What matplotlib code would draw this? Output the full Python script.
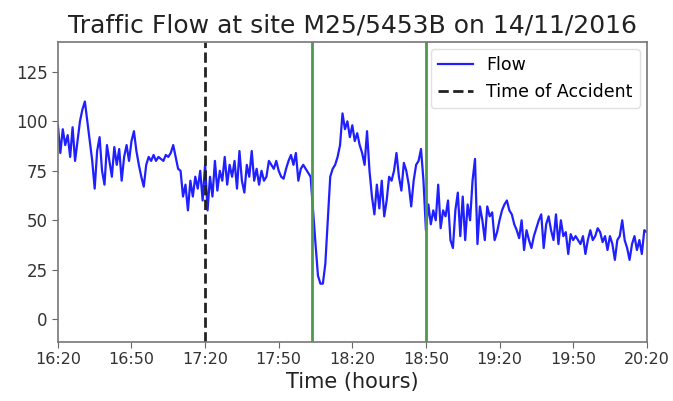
import matplotlib
matplotlib.use("Agg")
import matplotlib.pyplot as plt
import numpy as np
import pandas as pd

start_time = "2016-11-14 16:20"
flow = [
    98, 84, 96, 88, 93, 82, 97, 80, 90, 100,
    106, 110, 100, 90, 80, 66, 85, 92, 75, 68,
    88, 80, 72, 87, 78, 86, 70, 82, 88, 80,
    90, 95, 85, 78, 72, 67, 78, 82, 80, 83,
    80, 82, 81, 80, 83, 82, 84, 88, 82, 76,
    75, 62, 68, 55, 70, 62, 72, 66, 75, 60,
    78, 55, 72, 62, 80, 65, 75, 70, 82, 68,
    78, 72, 80, 66, 85, 70, 64, 78, 72, 85,
    70, 76, 68, 75, 70, 72, 80, 78, 76, 80,
    75, 72, 71, 76, 80, 83, 78, 84, 70, 76,
    78, 76, 74, 72, 55, 38, 22, 18, 18, 28,
    50, 72, 76, 78, 82, 88, 104, 96, 100, 92,
    98, 90, 94, 88, 84, 78, 95, 75, 62, 53,
    68, 56, 70, 52, 60, 72, 70, 75, 84, 72,
    65, 79, 75, 68, 57, 70, 78, 80, 86, 70,
    45, 58, 48, 55, 50, 68, 46, 55, 52, 60,
    40, 36, 55, 64, 42, 62, 40, 58, 50, 70,
    81, 38, 57, 50, 40, 57, 52, 54, 40, 44,
    50, 55, 58, 60, 55, 53, 48, 45, 41, 50,
    35, 45, 40, 36, 42, 46, 50, 53, 36, 48,
    52, 45, 40, 53, 38, 50, 42, 44, 33, 43,
    40, 42, 40, 38, 42, 33, 40, 45, 40, 42,
    46, 44, 39, 42, 35, 42, 38, 30, 40, 42,
    50, 40, 36, 30, 38, 42, 35, 40, 33, 45,
    44,
]
accident_time = "2016-11-14 17:20"
window_times = ["2016-11-14 18:03:30", "2016-11-14 18:50"]
xtick_labels = ["16:20", "16:50", "17:20", "17:50", "18:20", "18:50", "19:20", "19:50", "20:20"]
yticks = [0, 25, 50, 75, 100, 125]

times = pd.date_range(start_time, periods=len(flow), freq="1min")

fig = plt.figure(figsize=(6.73, 4.01), dpi=100)
ax = fig.add_axes([0.086, 0.147, 0.875, 0.748])

ax.plot(times, flow, color="#1f1fff", lw=1.6, label="Flow")
ax.axvline(pd.Timestamp(accident_time), color="#222222", ls="--", lw=2, label="Time of Accident")
for wt in window_times:
    ax.axvline(pd.Timestamp(wt), color="#4c9a4c", lw=2)

ax.set_xlim(pd.Timestamp(start_time), times[-1])
ax.set_ylim(-11.5, 140)
xt = [pd.Timestamp("2016-11-14 " + s) for s in xtick_labels]
ax.set_xticks(xt)
ax.set_xticklabels(xtick_labels, fontsize=11.5, color="#333333")
ax.set_yticks(yticks)
ax.set_yticklabels([str(v) for v in yticks], fontsize=12, color="#333333")
ax.tick_params(length=4, color="#666666")
for s in ax.spines.values():
    s.set_color("#777777")
    s.set_linewidth(1.2)

ax.set_title("Traffic Flow at site M25/5453B on 14/11/2016", fontsize=18, color="#222222", pad=7)
ax.set_xlabel("Time (hours)", fontsize=15, color="#222222", labelpad=3)
ax.legend(loc="upper right", fontsize=12.5, frameon=True, framealpha=0.9, edgecolor="#dddddd",
          borderaxespad=0.4)

fig.savefig("out.png", dpi=100)
